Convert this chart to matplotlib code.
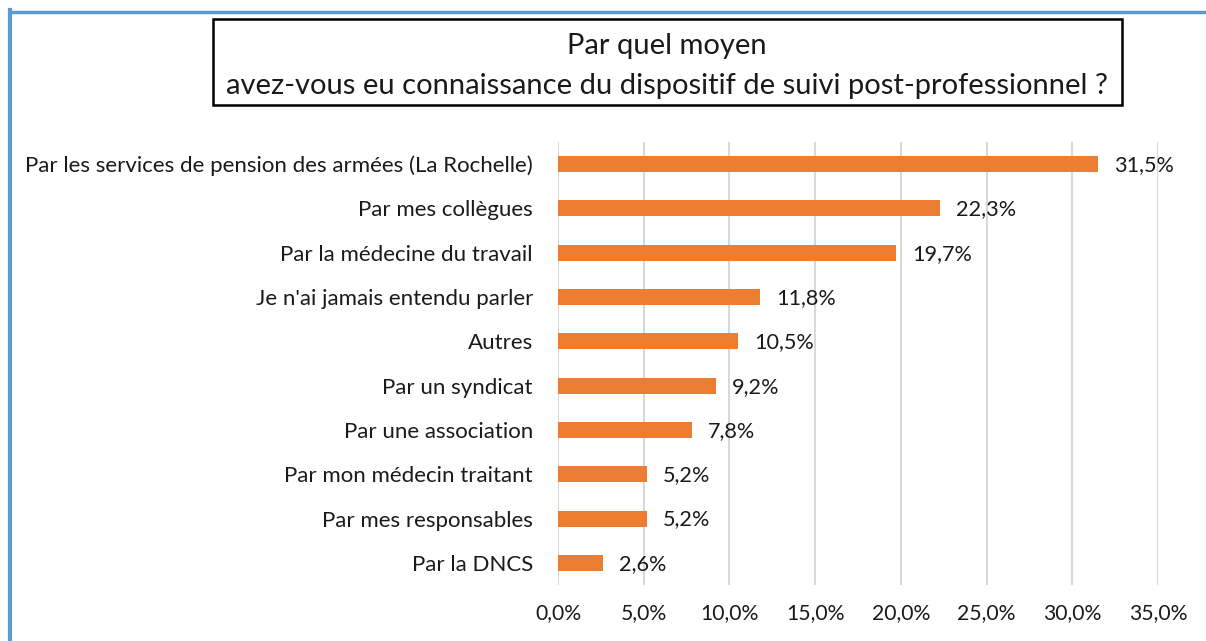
import matplotlib
matplotlib.use("Agg")
import matplotlib.pyplot as plt
from matplotlib.patches import Rectangle
from matplotlib.lines import Line2D

categories = [
    "Par les services de pension des armées (La Rochelle)",
    "Par mes collègues",
    "Par la médecine du travail",
    "Je n'ai jamais entendu parler",
    "Autres",
    "Par un syndicat",
    "Par une association",
    "Par mon médecin traitant",
    "Par mes responsables",
    "Par la DNCS",
]
values = [31.5, 22.3, 19.7, 11.8, 10.5, 9.2, 7.8, 5.2, 5.2, 2.6]
xticks = [0, 5, 10, 15, 20, 25, 30, 35]
title_lines = ["Par quel moyen",
               "avez-vous eu connaissance du dispositif de suivi post-professionnel ?"]

plt.rcParams['font.family'] = ['Lato', 'DejaVu Sans']

fig = plt.figure(figsize=(12.06, 6.41), dpi=100)
W, H = 1206, 641
ax = fig.add_axes([558 / W, 1 - 585 / H, 600 / W, 443 / H])

ypos = list(range(len(categories)))
ax.barh(ypos, values, height=0.36, color="#ED7D31", zorder=3)
ax.set_ylim(len(categories) - 0.5, -0.5)
ax.set_xlim(0, 35)
ax.set_yticks(ypos)
ax.set_yticklabels(categories, fontsize=16, color="#1a1a1a")
ax.set_xticks(xticks)
ax.set_xticklabels([f"{t:.1f}%".replace(".", ",") for t in xticks], fontsize=15.2, color="#1a1a1a")
ax.tick_params(axis="both", length=0)
ax.tick_params(axis="y", pad=18)
ax.tick_params(axis="x", pad=13)
ax.grid(axis="x", color="#D9D9D9", linewidth=1.5, zorder=0)
for s in ax.spines.values():
    s.set_visible(False)

for y, v in zip(ypos, values):
    ax.annotate(f"{v:.1f}%".replace(".", ","), (v, y), xytext=(16, -1),
                textcoords="offset pixels",
                va="center", ha="left", fontsize=15.6, color="#1a1a1a")

# title box
for line, yc in zip(title_lines, [46, 86]):
    fig.text(667 / W, 1 - yc / H, line, ha="center", va="center", fontsize=21,
             color="#1a1a1a")
fig.add_artist(Rectangle((213 / W, 1 - 105 / H), (1122 - 213) / W, 86 / H,
                         transform=fig.transFigure, fill=False, edgecolor="black", linewidth=1.8))

# outer blue border (top and left)
fig.add_artist(Line2D([10 / W, 1], [1 - 11.5 / H, 1 - 11.5 / H], transform=fig.transFigure,
                      color="#5B9BD5", linewidth=2.5))
fig.add_artist(Line2D([10 / W, 10 / W], [0, 1 - 10 / H], transform=fig.transFigure,
                      color="#5B9BD5", linewidth=3))

fig.savefig("out.png", dpi=100)
